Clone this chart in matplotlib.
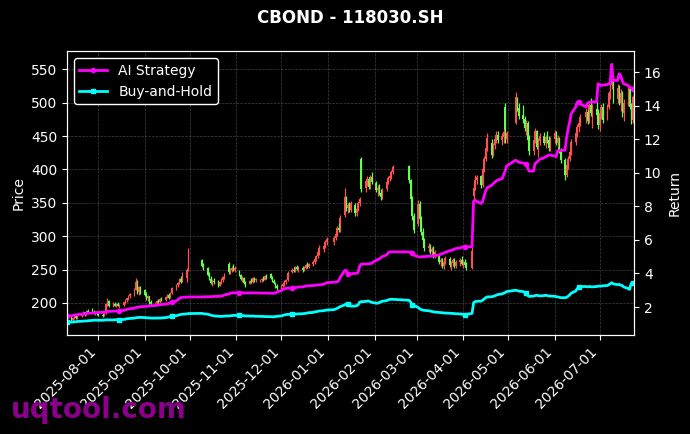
import matplotlib
matplotlib.use("Agg")
import matplotlib.pyplot as plt
import matplotlib.dates as mdates
import pandas as pd

# trading calendar (SSE holidays removed)
holidays = ['2025-10-01', '2025-10-02', '2025-10-03', '2025-10-06', '2025-10-07', '2025-10-08',
            '2026-01-01', '2026-01-02',
            '2026-02-16', '2026-02-17', '2026-02-18', '2026-02-19', '2026-02-20', '2026-02-23',
            '2026-04-06', '2026-05-01', '2026-05-04', '2026-05-05', '2026-06-19']
dates = pd.bdate_range('2025-07-11', '2026-07-24', freq='C', holidays=holidays)

opens = [176, 177, 175, 178, 180, 177, 181, 184, 186, 183, 188, 189, 186, 184, 187, 183,
         182, 181, 185, 198, 203, 196, 199, 196, 198, 196, 197, 201, 204, 207, 210,
         213, 220, 232, 217, 224, 219, 212, 207, 210, 201, 198, 200, 203, 201, 206,
         205, 209, 212, 208, 215, 222, 227, 230, 236, 232, 238, 250, 264, 256,
         252, 242, 236, 230, 233, 231, 226, 231, 235, 239, 258, 246, 250, 253, 250,
         248, 242, 236, 238, 230, 229, 233, 231, 237, 234, 232, 234, 236, 235, 240,
         243, 238, 233, 230, 226, 222, 226, 229, 231, 235, 246, 250, 248, 254, 251,
         252, 249, 253, 257, 254, 258, 262, 266, 270, 276, 281, 285, 291,
         292, 298, 304, 312, 309, 332, 356, 342, 347, 339, 347, 334, 341, 349, 416,
         372, 382, 386, 373, 388, 380, 369, 372, 364, 358, 370, 381, 387, 390, 396,
         405, 384, 356, 330, 318, 348, 326, 306, 294, 282, 286, 276, 281, 271,
         272, 261, 265, 255, 262, 266, 257, 260, 265, 256, 261, 264, 259, 262, 259,
         253, 360, 372, 384, 390, 376, 400, 416, 432, 440, 422, 436, 445, 452,
         444, 448, 494, 445, 470, 506, 492, 482, 475, 462, 470, 444, 428, 444, 457, 434, 442,
         450, 440, 448, 444, 432, 445, 455, 440, 447, 428, 414, 392, 406, 416, 426,
         441, 454, 463, 470, 478, 486, 472, 496, 484, 490, 482, 466, 484, 494,
         476, 494, 514, 526, 532, 506, 522, 500, 514, 484, 500, 520, 494, 474, 508]
highs = [179, 180, 179, 182, 181, 182, 185, 188, 187, 189, 191, 192, 189, 188, 188, 186,
         185, 186, 200, 207, 205, 201, 201, 200, 201, 199, 202, 206, 208, 212, 215,
         222, 237, 234, 226, 226, 221, 216, 212, 211, 204, 202, 205, 206, 207, 209,
         210, 214, 215, 217, 224, 229, 232, 238, 240, 246, 252, 282, 266, 260,
         254, 246, 240, 236, 238, 234, 233, 237, 241, 245, 262, 252, 256, 258, 255,
         250, 244, 240, 239, 233, 235, 237, 239, 239, 238, 236, 238, 240, 242, 243,
         245, 240, 236, 232, 229, 228, 231, 234, 236, 248, 252, 254, 256, 257, 255,
         256, 255, 259, 261, 260, 264, 268, 272, 278, 287, 288, 294, 299,
         300, 307, 315, 320, 332, 372, 360, 350, 351, 352, 350, 344, 352, 358, 418,
         386, 390, 389, 392, 396, 382, 376, 378, 370, 372, 384, 390, 393, 399, 407,
         407, 386, 360, 334, 354, 352, 330, 313, 298, 290, 289, 284, 286, 280,
         274, 268, 268, 264, 270, 269, 263, 268, 267, 264, 268, 270, 265, 266, 262,
         284, 378, 391, 392, 392, 404, 420, 438, 454, 446, 440, 450, 457, 458,
         455, 460, 499, 458, 516, 509, 499, 496, 480, 474, 472, 452, 448, 462, 459, 447, 455,
         456, 452, 457, 450, 448, 459, 458, 452, 449, 432, 417, 410, 420, 430, 446,
         458, 468, 476, 483, 492, 490, 500, 507, 498, 502, 490, 488, 498, 500,
         498, 518, 530, 559, 535, 528, 526, 520, 518, 506, 525, 522, 500, 512, 528]
lows = [173, 171, 173, 176, 176, 176, 179, 182, 181, 182, 185, 185, 183, 182, 182, 180,
        179, 180, 184, 195, 194, 194, 195, 194, 195, 193, 196, 199, 202, 205, 208,
        211, 219, 214, 212, 213, 210, 205, 203, 199, 196, 196, 198, 199, 200, 203,
        203, 207, 206, 207, 213, 220, 224, 228, 230, 231, 232, 248, 254, 249,
        240, 234, 228, 226, 229, 224, 225, 229, 232, 236, 244, 243, 247, 248, 246,
        240, 234, 231, 228, 224, 228, 230, 230, 232, 231, 231, 232, 233, 234, 236,
        236, 231, 228, 223, 219, 221, 224, 226, 229, 233, 245, 246, 247, 249, 247,
        246, 248, 251, 252, 252, 256, 259, 263, 268, 272, 276, 282, 287,
        287, 295, 301, 306, 307, 329, 338, 335, 336, 336, 331, 330, 338, 345, 366,
        366, 375, 370, 371, 378, 366, 360, 362, 354, 356, 368, 378, 383, 386, 393,
        380, 352, 325, 305, 316, 322, 302, 290, 278, 276, 273, 270, 268, 267,
        258, 255, 252, 251, 259, 254, 250, 256, 253, 252, 255, 257, 252, 254, 249,
        251, 354, 369, 378, 372, 374, 396, 412, 428, 417, 420, 431, 440, 440,
        436, 440, 439, 440, 468, 488, 476, 470, 458, 452, 440, 421, 422, 440, 430, 418, 436,
        436, 432, 440, 428, 427, 440, 436, 433, 425, 410, 384, 388, 400, 412, 422,
        436, 448, 456, 465, 470, 468, 470, 480, 462, 478, 460, 457, 476, 470,
        474, 490, 505, 520, 500, 500, 496, 488, 478, 472, 495, 490, 468, 470, 505]
closes = [177, 175, 178, 180, 177, 181, 184, 186, 183, 188, 186, 186, 184, 187, 183, 182,
          181, 185, 198, 203, 196, 199, 196, 198, 196, 197, 201, 204, 207, 210, 213,
          220, 232, 217, 224, 215, 212, 207, 210, 201, 198, 200, 203, 201, 206, 205,
          209, 212, 208, 215, 222, 227, 230, 236, 232, 243, 250, 264, 256, 251,
          242, 236, 230, 233, 231, 226, 231, 235, 239, 243, 246, 250, 253, 250, 252,
          242, 236, 238, 230, 227, 233, 231, 237, 234, 236, 234, 236, 235, 240, 238,
          238, 233, 230, 226, 222, 226, 229, 231, 235, 245, 250, 248, 254, 251, 253,
          249, 253, 257, 254, 258, 262, 266, 270, 276, 282, 285, 291, 296,
          298, 304, 312, 309, 328, 358, 342, 347, 339, 349, 334, 341, 349, 355, 370,
          382, 386, 373, 388, 381, 369, 372, 364, 358, 369, 381, 387, 390, 396, 404,
          384, 356, 330, 310, 348, 326, 306, 294, 282, 286, 276, 281, 271, 277,
          261, 265, 255, 262, 267, 257, 260, 265, 256, 261, 264, 259, 262, 257, 252,
          278, 372, 384, 388, 376, 400, 416, 432, 447, 422, 436, 445, 452, 444,
          450, 456, 445, 454, 508, 492, 480, 475, 462, 470, 444, 428, 444, 457, 434, 442, 450,
          440, 448, 444, 432, 445, 455, 440, 447, 428, 414, 392, 406, 416, 426, 441,
          454, 463, 470, 478, 486, 472, 496, 484, 490, 482, 466, 484, 494, 474,
          494, 514, 526, 532, 506, 522, 500, 514, 484, 500, 520, 494, 474, 508, 522]

ai_strategy = [1.46, 1.48, 1.50, 1.52, 1.53, 1.55, 1.57, 1.58, 1.60, 1.62, 1.63,
               1.64, 1.66, 1.66, 1.67, 1.68, 1.68, 1.69, 1.71, 1.73, 1.74,
               1.75, 1.75, 1.76, 1.77, 1.78, 1.80, 1.83, 1.86, 1.88, 1.90,
               1.93, 1.97, 1.98, 2.00, 2.02, 2.03, 2.04, 2.06, 2.07, 2.08,
               2.09, 2.10, 2.12, 2.13, 2.15, 2.17, 2.19, 2.22, 2.25, 2.30,
               2.36, 2.44, 2.52, 2.56, 2.58, 2.59, 2.60, 2.60, 2.61,
               2.61, 2.61, 2.62, 2.62, 2.63, 2.63, 2.64, 2.65, 2.68, 2.72,
               2.78, 2.83, 2.84, 2.85, 2.85, 2.84, 2.84, 2.85, 2.84, 2.84,
               2.84, 2.84, 2.84, 2.84, 2.84, 2.83, 2.83, 2.83, 2.83, 2.83,
               2.82, 2.82, 2.82, 2.84, 2.90, 2.98, 3.05, 3.10, 3.11, 3.12,
               3.13, 3.14, 3.15, 3.17, 3.18, 3.20, 3.22, 3.24, 3.26, 3.27,
               3.28, 3.29, 3.30, 3.31, 3.32, 3.35, 3.40, 3.45,
               3.47, 3.48, 3.50, 3.55, 3.75, 4.15, 4.20, 3.98, 3.96, 3.98,
               4.00, 4.02, 4.05, 4.40, 4.55, 4.56, 4.57, 4.58, 4.59, 4.60,
               4.78, 4.82, 4.86, 4.92, 5.00, 5.10, 5.22, 5.28, 5.29, 5.29,
               5.28, 5.26, 5.20, 5.10, 5.00, 4.98, 4.98, 5.00, 5.00,
               5.02, 5.03, 5.04, 5.05, 5.06, 5.10, 5.15, 5.18, 5.20, 5.25,
               5.35, 5.38, 5.40, 5.44, 5.48, 5.52, 5.55, 5.58, 5.60, 5.58,
               5.60, 8.30, 8.37, 8.30, 8.17, 8.25, 8.60, 8.90, 9.10,
               9.25, 9.35, 9.42, 9.50, 9.56, 9.65, 9.85, 10.10, 10.40,
               10.75, 10.70, 10.62, 10.58, 10.55, 10.55, 10.30, 10.10,
               10.10, 10.55, 10.62, 10.70, 10.80, 10.90, 10.95, 11.00, 11.05, 11.05,
               11.00, 10.95, 11.30, 11.32, 11.32, 11.35, 12.10, 12.60, 13.00, 13.50,
               13.90, 14.20, 14.22, 14.10, 13.92, 14.15, 14.20, 14.22, 14.22,
               14.22, 15.30, 15.25, 15.20, 15.22, 15.25, 15.30, 15.32, 16.45, 15.50,
               15.50, 15.90, 15.80, 15.50, 15.30, 15.20, 15.10, 15.05, 14.98, 14.96]
buy_hold = [1.08, 1.10, 1.11, 1.12, 1.12, 1.14, 1.15, 1.16, 1.17, 1.16, 1.18,
            1.20, 1.21, 1.22, 1.21, 1.21, 1.21, 1.22, 1.23, 1.24, 1.23,
            1.23, 1.24, 1.24, 1.25, 1.24, 1.26, 1.28, 1.30, 1.31, 1.32,
            1.34, 1.36, 1.37, 1.38, 1.38, 1.37, 1.36, 1.35, 1.35, 1.34,
            1.34, 1.34, 1.35, 1.34, 1.35, 1.37, 1.39, 1.41, 1.43, 1.45,
            1.48, 1.51, 1.54, 1.56, 1.57, 1.59, 1.61, 1.62, 1.60,
            1.57, 1.54, 1.51, 1.49, 1.47, 1.45, 1.44, 1.44, 1.45, 1.46,
            1.47, 1.48, 1.49, 1.50, 1.50, 1.51, 1.50, 1.49, 1.48, 1.47,
            1.46, 1.46, 1.46, 1.45, 1.45, 1.44, 1.44, 1.44, 1.43, 1.43,
            1.42, 1.42, 1.42, 1.43, 1.45, 1.47, 1.50, 1.53, 1.55, 1.56,
            1.57, 1.57, 1.58, 1.58, 1.59, 1.60, 1.61, 1.62, 1.64, 1.66,
            1.68, 1.70, 1.72, 1.74, 1.76, 1.78, 1.80, 1.82,
            1.84, 1.88, 1.92, 1.96, 2.02, 2.12, 2.18, 2.15, 2.10, 2.06,
            2.05, 2.08, 2.12, 2.28, 2.32, 2.33, 2.35, 2.36, 2.32, 2.28,
            2.24, 2.22, 2.26, 2.30, 2.34, 2.38, 2.42, 2.45, 2.46, 2.46,
            2.40, 2.30, 2.14, 2.10, 1.98, 1.90, 1.85, 1.82, 1.80,
            1.78, 1.76, 1.74, 1.72, 1.70, 1.68, 1.67, 1.66, 1.65, 1.64,
            1.63, 1.62, 1.62, 1.61, 1.60, 1.59, 1.58, 1.56, 1.55, 1.56,
            1.62, 2.25, 2.32, 2.34, 2.35, 2.40, 2.48, 2.55, 2.60,
            2.61, 2.63, 2.66, 2.70, 2.74, 2.78, 2.82, 2.86, 2.92,
            3.00, 2.98, 2.95, 2.92, 2.88, 2.84, 2.70, 2.63,
            2.65, 2.68, 2.70, 2.68, 2.66, 2.68, 2.70, 2.68, 2.66, 2.65,
            2.64, 2.62, 2.60, 2.58, 2.56, 2.55, 2.58, 2.64, 2.72, 2.82,
            2.95, 3.08, 3.18, 3.22, 3.22, 3.20, 3.22, 3.21, 3.20,
            3.22, 3.24, 3.25, 3.24, 3.26, 3.28, 3.32, 3.38, 3.45, 3.38,
            3.33, 3.35, 3.30, 3.28, 3.20, 3.10, 3.05, 3.40, 3.42, 3.40]

plt.style.use('dark_background')
fig = plt.figure(figsize=(6.9, 4.34), dpi=100)
ax = fig.add_axes([0.097, 0.228, 0.822, 0.654])
ax2 = ax.twinx()

up_col = '#ff5050'
down_col = '#66ff4d'
cols = [up_col if c >= o else down_col for o, c in zip(opens, closes)]
ax.vlines(dates, lows, highs, colors=cols, linewidth=0.9)
ax.bar(dates, [abs(c - o) for o, c in zip(opens, closes)], width=0.8,
       bottom=[min(o, c) for o, c in zip(opens, closes)], color=cols, linewidth=0)

ax2.plot(dates, ai_strategy, color='#ff00ff', lw=2, marker='o', ms=3, markevery=25, label='AI Strategy')
ax2.plot(dates, buy_hold, color='#00ffff', lw=2, marker='s', ms=3, markevery=25, label='Buy-and-Hold')

ax.set_xlim(dates[0], dates[-1])
ax.set_ylim(152, 577)
ax2.set_ylim(0.33, 17.24)
ax.set_yticks(range(200, 551, 50))
ax2.set_yticks(range(2, 17, 2))
ax.xaxis.set_major_locator(mdates.MonthLocator())
ax.xaxis.set_major_formatter(mdates.DateFormatter('%Y-%m-%d'))
plt.setp(ax.get_xticklabels(), rotation=45, ha='right')

ax.grid(True, linestyle='--', linewidth=0.5, color='gray', alpha=0.5)
ax.set_ylabel('Price')
ax2.set_ylabel('Return')
for a in (ax, ax2):
    for s in a.spines.values():
        s.set_color('white')

ax2.legend(loc='upper left', facecolor='black', edgecolor='white', framealpha=1, fontsize=10)
fig.suptitle('CBOND - 118030.SH', fontsize=12, fontweight='bold', x=0.508, y=0.958, va='center')
fig.text(0.016, 0.022, 'uqtool.com', fontsize=20, fontweight='bold', color='#8a008a', va='bottom')

fig.savefig('out.png', dpi=100, facecolor='black')
